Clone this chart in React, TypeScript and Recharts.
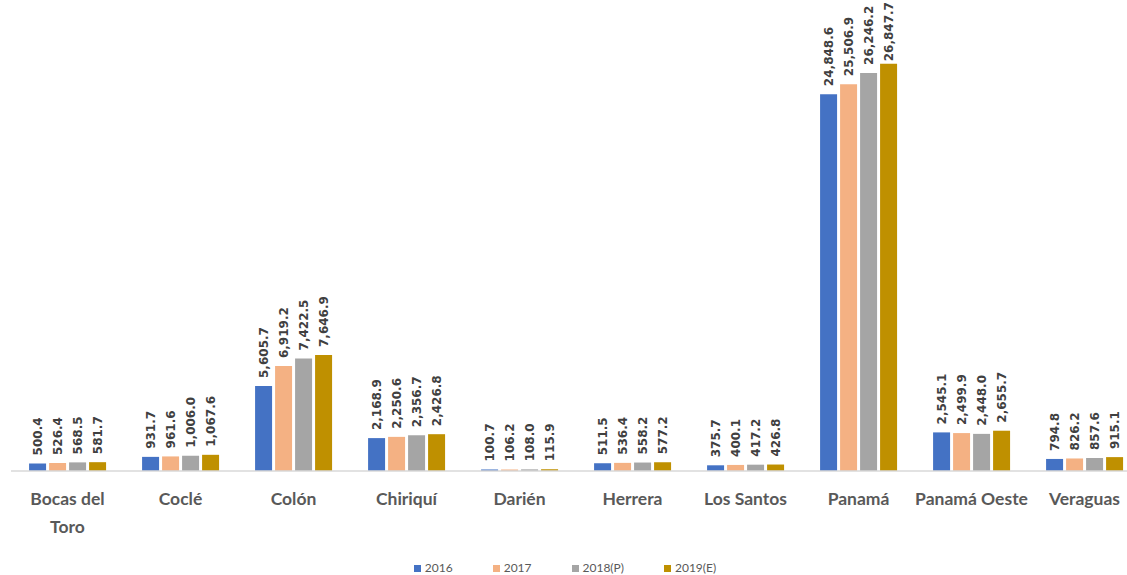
import React from 'react';
import { BarChart, Bar, XAxis, YAxis, Legend, LabelList, Text } from 'recharts';

const provinces = [
  'Bocas del Toro', 'Coclé', 'Colón', 'Chiriquí', 'Darién',
  'Herrera', 'Los Santos', 'Panamá', 'Panamá Oeste', 'Veraguas',
];

const v2016 = [500.4, 931.7, 5605.7, 2168.9, 100.7, 511.5, 375.7, 24848.6, 2545.1, 794.8];
const v2017 = [526.4, 961.6, 6919.2, 2250.6, 106.2, 536.4, 400.1, 25506.9, 2499.9, 826.2];
const v2018 = [568.5, 1006.0, 7422.5, 2356.7, 108.0, 558.2, 417.2, 26246.2, 2448.0, 857.6];
const v2019 = [581.7, 1067.6, 7646.9, 2426.8, 115.9, 577.2, 426.8, 26847.7, 2655.7, 915.1];

const series = [
  { key: 'y2016', name: '2016', color: '#4472C4' },
  { key: 'y2017', name: '2017', color: '#F4B183' },
  { key: 'y2018', name: '2018(P)', color: '#A5A5A5' },
  { key: 'y2019', name: '2019(E)', color: '#BF9000' },
];

const data = provinces.map((name, i) => ({
  name,
  y2016: v2016[i],
  y2017: v2017[i],
  y2018: v2018[i],
  y2019: v2019[i],
}));

const fmt = (v: number) =>
  v.toLocaleString('en-US', { minimumFractionDigits: 1, maximumFractionDigits: 1 });

// rough text length for DejaVu Sans Bold at 12px
const labelLength = (s: string) =>
  s.split('').reduce((sum, ch) => sum + (ch === ',' || ch === '.' ? 4.6 : 8.35), 0);

// value written vertically just above each bar; pushed down if it would leave the top
const VerticalLabel = (props: any) => {
  const { x, y, width, value } = props;
  const text = fmt(value);
  const cx = Number(x) + Number(width) / 2;
  const cy = Math.max(Number(y) - 8, labelLength(text) + 2);
  return (
    <text
      x={cx}
      y={cy}
      transform={`rotate(-90 ${cx} ${cy})`}
      textAnchor="start"
      dominantBaseline="central"
      fontFamily="DejaVu Sans"
      fontWeight="bold"
      fontSize={12}
      fill="#404040"
    >
      {text}
    </text>
  );
};

const ProvinceTick = (props: any) => {
  const { x, y, payload } = props;
  const words = String(payload.value).split(' ');
  return (
    <Text
      x={x}
      y={y + 14}
      width={words.length > 2 ? 90 : undefined}
      textAnchor="middle"
      verticalAnchor="start"
      lineHeight={28}
      fontFamily="Lato"
      fontWeight="bold"
      fontSize={17.5}
      fill="#595959"
    >
      {payload.value}
    </Text>
  );
};

const LegendBox = () => (
  <div
    style={{
      display: 'flex',
      justifyContent: 'center',
      gap: 40,
      paddingTop: 20,
      height: 14,
      fontFamily: 'Lato',
      fontSize: 12,
      color: '#595959',
      lineHeight: '14px',
      marginLeft: -22,
    }}
  >
    {series.map((s) => (
      <div key={s.key} style={{ display: 'flex', alignItems: 'center', gap: 4 }}>
        <span style={{ width: 7, height: 7, background: s.color, display: 'inline-block' }} />
        <span>{s.name}</span>
      </div>
    ))}
  </div>
);

export default function App() {
  return (
    <div
      style={{
        position: 'fixed',
        left: 0,
        top: 0,
        width: 1127,
        height: 575,
        overflow: 'hidden',
        background: '#fff',
      }}
    >
      <BarChart
        width={1145}
        height={575}
        data={data}
        margin={{ top: 16, right: 4, left: 11, bottom: 0 }}
        barCategoryGap="16%"
        barGap={3}
      >
        <XAxis
          dataKey="name"
          tickLine={false}
          axisLine={{ stroke: '#D9D9D9', strokeWidth: 1.5 }}
          height={70}
          interval={0}
          tick={<ProvinceTick />}
        />
        <YAxis hide domain={[0, 30000]} />
        <Legend verticalAlign="bottom" height={34} content={<LegendBox />} />
        {series.map((s) => (
          <Bar key={s.key} dataKey={s.key} name={s.name} fill={s.color} isAnimationActive={false}>
            <LabelList dataKey={s.key} content={<VerticalLabel />} />
          </Bar>
        ))}
      </BarChart>
    </div>
  );
}
